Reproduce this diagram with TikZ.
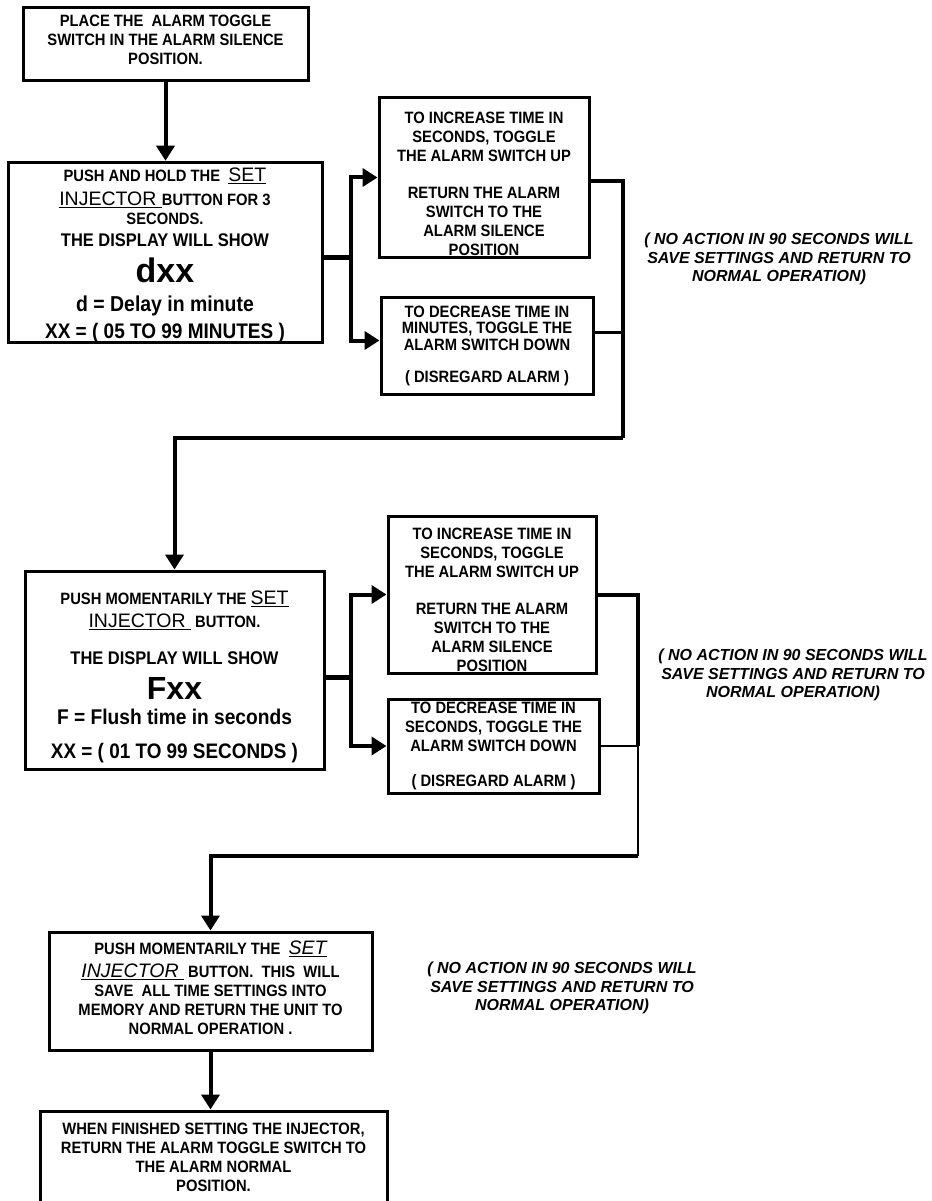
\documentclass[tikz,border=0pt]{standalone}
\usepackage{fontspec}
\setmainfont{Liberation Sans}
\newfontfamily\narrowsans[FakeStretch=0.9]{Liberation Sans}
\usetikzlibrary{arrows.meta}
\usetikzlibrary{positioning}
\tikzset{>={Triangle[width=18pt,length=15pt]}}
\newcommand\btnword[1]{{\normalfont\fontsize{19.5}{19}\selectfont\underline{#1}}}
\newcommand\btnslant[1]{{\normalfont\itshape\fontsize{19.5}{19}\selectfont\underline{#1}}}
\newcommand\bigline[2]{{\fontsize{#1}{19}\selectfont #2}}

\begin{document}
\begin{tikzpicture}[x=1pt, y=-1pt,
            box/.style={draw, line width=3pt, align=center, inner sep=0pt, font=\narrowsans\bfseries\fontsize{16.4}{19}\selectfont},
            note/.style={align=center, font=\bfseries\itshape\fontsize{16}{18.5}\selectfont},
            conn/.style={line width=4pt},
            thinconn/.style={line width=2.5pt}
        ]
            \useasboundingbox (0,0) rectangle (931,1201);
            % first setting: delay
            \node[box, minimum width=285pt, minimum height=73pt] (place) at (165.5,44.5)
                {PLACE THE~~ALARM TOGGLE\\SWITCH IN THE ALARM SILENCE\\POSITION.\\[-10pt]\mbox{}};
            \node[box, minimum width=314pt, minimum height=179pt] (hold) at (165,252.5)
                {\rule{0pt}{19.6pt}PUSH AND HOLD THE~~\btnword{SET}\\[5pt]
                 \btnword{INJECTOR }BUTTON FOR 3\\
                 SECONDS.\\[3pt]
                 \bigline{18.3}{THE DISPLAY WILL SHOW}\\[10pt]
                 {\normalfont\bfseries\fontsize{34}{19}\selectfont dxx}\\[10pt]
                 \bigline{21.6}{d = Delay in minute}\\[6pt]
                 \bigline{21.1}{XX = ( 05 TO 99 MINUTES )}};
            \node[box, minimum width=210pt, minimum height=159pt] (incup1) at (484,177.5)
                {\rule{0pt}{23.7pt}TO INCREASE TIME IN\\SECONDS, TOGGLE\\THE ALARM SWITCH UP\\[18pt]
                 RETURN THE ALARM\\SWITCH TO THE\\ALARM SILENCE\\POSITION};
            \node[box, minimum width=212pt, minimum height=97pt] (decdown1) at (487,345.5)
                {TO DECREASE TIME IN\\[-2.5pt]MINUTES, TOGGLE THE\\[-2.5pt]ALARM SWITCH DOWN\\[13pt]
                 ( DISREGARD ALARM )};
            % second setting: flush
            \node[box, minimum width=299pt, minimum height=198pt] (flush) at (174.5,670)
                {\rule{0pt}{28pt}PUSH MOMENTARILY THE \btnword{SET}\\[4pt]
                 \btnword{INJECTOR }~BUTTON.\\[18pt]
                 \bigline{18.3}{THE DISPLAY WILL SHOW}\\[12pt]
                 {\normalfont\bfseries\fontsize{32}{19}\selectfont Fxx}\\[6pt]
                 \bigline{21.3}{F = Flush time in seconds}\\[15pt]
                 \bigline{21}{XX = ( 01 TO 99 SECONDS )}};
            \node[box, minimum width=208pt, minimum height=157pt] (incup2) at (492,594.5)
                {\rule{0pt}{23pt}TO INCREASE TIME IN\\SECONDS, TOGGLE\\THE ALARM SWITCH UP\\[18pt]
                 RETURN THE ALARM\\SWITCH TO THE\\ALARM SILENCE\\POSITION};
            \node[box, minimum width=211pt, minimum height=94pt] (decdown2) at (493.5,746)
                {TO DECREASE TIME IN\\SECONDS, TOGGLE THE\\ALARM SWITCH DOWN\\[16pt]
                 ( DISREGARD ALARM )};
            % saving
            \node[box, minimum width=323pt, minimum height=118pt] (save) at (210.5,991)
                {PUSH MOMENTARILY THE~~\btnslant{SET}\\[4pt]
                 \btnslant{INJECTOR }~BUTTON.~~THIS~~WILL\\
                 SAVE~~ALL TIME SETTINGS INTO\\
                 MEMORY AND RETURN THE UNIT TO\\
                 NORMAL OPERATION .\\[-13pt]\mbox{}};
            \node[box, minimum width=347pt, minimum height=92pt] (finish) at (213.5,1157)
                {WHEN FINISHED SETTING THE INJECTOR,\\RETURN THE ALARM TOGGLE SWITCH TO\\THE ALARM NORMAL\\POSITION.};
            % label
            \node[note] (wait1) at (779,259) {( NO ACTION IN 90 SECONDS WILL\\SAVE SETTINGS AND RETURN TO\\NORMAL OPERATION)};
            \node[note] (wait2) at (793,675) {( NO ACTION IN 90 SECONDS WILL\\SAVE SETTINGS AND RETURN TO\\NORMAL OPERATION)};
            \node[note] (wait3) at (562,988) {( NO ACTION IN 90 SECONDS WILL\\SAVE SETTINGS AND RETURN TO\\NORMAL OPERATION)};
            % paths
            \coordinate (back1) at (623,438);
            \coordinate (back2) at (638,856);
            \draw[conn,->] (place.south) -- (place.south |- hold.north);
            \draw[conn, line width=5pt] ([yshift=-5pt]hold.east) -- ++(27,0) coordinate (fork1);
            \draw[conn,->] (fork1) |- (incup1.west);
            \draw[conn,->] (fork1) |- ([yshift=5pt]decdown1.west);
            \draw[conn] ([yshift=-4pt]incup1.east) -| (back1);
            \draw[thinconn] ([yshift=13pt]decdown1.east) -- ([yshift=13pt]decdown1.east -| back1);
            \draw[conn,->] (back1) -| (flush.north);
            \draw[conn, line width=5pt] ([yshift=-7pt]flush.east) -- ++(25,0) coordinate (fork2);
            \draw[conn,->] (fork2) |- (incup2.west);
            \draw[conn,->] (fork2) |- (decdown2.west);
            \draw[conn] (incup2.east) -| (back2 |- decdown2.east);
            \draw[thinconn] (decdown2.east) -| (back2);
            \draw[conn,->] (back2) -| (save.north);
            \draw[conn,->] (save.south) -- (save.south |- finish.north);
        \end{tikzpicture}
\end{document}
